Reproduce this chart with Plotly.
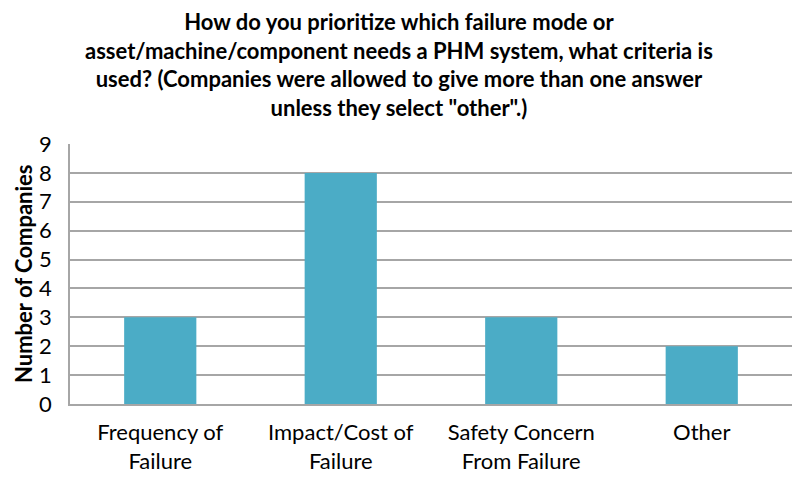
import plotly.graph_objects as go

# Survey responses per prioritization criterion
categories = [
    "Frequency of<br>Failure",
    "Impact/Cost of<br>Failure",
    "Safety Concern<br>From Failure",
    "Other",
]
companies = [3, 8, 3, 2]

TITLE = (
    "How do you prioritize which failure mode or<br>"
    "asset/machine/component needs a PHM system, what criteria is<br>"
    "used? (Companies were allowed to give more than one answer<br>"
    "unless they select \"other\".)"
)

BAR_COLOR = "#4BACC6"
GRID_COLOR = "#A6A6A6"
FONT = "Lato, Open Sans, sans-serif"

# The page body keeps its default 8px margin, so the figure is 8px smaller.
FIG_W, FIG_H = 792, 469
M_L, M_R, M_T, M_B = 62, 8, 136, 73

fig = go.Figure()
fig.add_trace(
    go.Bar(
        x=categories,
        y=companies,
        marker_color=BAR_COLOR,
        marker_line_width=0,
        showlegend=False,
    )
)

# Title as an annotation, centred on the whole figure
title_x = (FIG_W / 2 - 5 - M_L) / (FIG_W - M_L - M_R)
fig.add_annotation(
    text=TITLE,
    xref="paper",
    yref="paper",
    x=title_x,
    y=1,
    xanchor="center",
    yanchor="bottom",
    yshift=22,
    borderpad=0,
    showarrow=False,
    font=dict(family=FONT, size=22, color="#000000", weight="bold"),
)
# Y axis title
fig.add_annotation(
    text="Number of Companies",
    xref="paper",
    yref="paper",
    x=0,
    y=0.5,
    xanchor="center",
    yanchor="middle",
    xshift=-47,
    textangle=-90,
    borderpad=0,
    showarrow=False,
    font=dict(family=FONT, size=22, color="#000000", weight="bold"),
)

fig.update_layout(
    width=FIG_W,
    height=FIG_H,
    paper_bgcolor="white",
    plot_bgcolor="white",
    bargap=0.6,
    font=dict(family=FONT, size=22, color="#000000"),
    margin=dict(l=M_L, r=M_R, t=M_T, b=M_B, autoexpand=False),
    xaxis=dict(
        showline=True,
        linecolor=GRID_COLOR,
        linewidth=1.5,
        showgrid=False,
        ticks="",
        automargin=False,
        ticklabelstandoff=8,
        tickfont=dict(size=22),
    ),
    yaxis=dict(
        range=[0, 9],
        dtick=1,
        showline=True,
        linecolor=GRID_COLOR,
        linewidth=1.5,
        showgrid=True,
        gridcolor=GRID_COLOR,
        gridwidth=1.5,
        zeroline=False,
        ticks="",
        automargin=False,
        ticklabelstandoff=12,
        tickfont=dict(size=22),
    ),
)

fig.write_html("out.html")
